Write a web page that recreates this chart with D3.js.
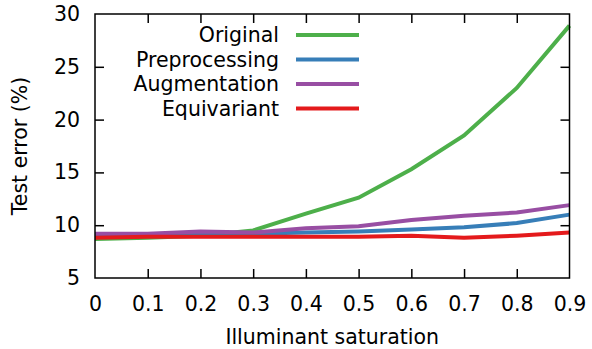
<!DOCTYPE html>
<html lang="en">
<head>
<meta charset="UTF-8">
<title>Test error vs illuminant saturation</title>
<script src="https://d3js.org/d3.v7.min.js"></script>
<style>
    body { margin: 0; background: #fff; }
    text { font-family: "DejaVu Sans", sans-serif; fill: #000; }
    .line { fill: none; stroke-width: 4px; stroke-linejoin: miter; }
</style>
</head>
<body>
<script>
    // Data
    var saturation = [0, 0.1, 0.2, 0.3, 0.4, 0.5, 0.6, 0.7, 0.8, 0.9];
    var original      = [8.7, 8.8, 9.0, 9.5, 11.1, 12.6, 15.3, 18.5, 23.0, 28.9];
    var preprocessing = [9.0, 9.0, 9.1, 9.2, 9.3, 9.4, 9.6, 9.8, 10.2, 11.0];
    var augmentation  = [9.2, 9.2, 9.4, 9.3, 9.7, 9.9, 10.5, 10.9, 11.2, 11.9];
    var equivariant   = [8.8, 8.9, 8.9, 8.9, 8.9, 8.9, 9.0, 8.8, 9.0, 9.3];
    var seriesNames = ["Original", "Preprocessing", "Augmentation", "Equivariant"];
    var seriesColors = ["#4daf4a", "#377eb8", "#984ea3", "#e41a1c"];
    var xTicks = [0, 0.1, 0.2, 0.3, 0.4, 0.5, 0.6, 0.7, 0.8, 0.9];
    var yTicks = [5, 10, 15, 20, 25, 30];

    var series = [original, preprocessing, augmentation, equivariant];

    var W = 592, H = 349;
    var fs = 20.5;
    var margin = {top: 14, right: 22.5, bottom: 71, left: 95},
        width = W - margin.left - margin.right,
        height = H - margin.top - margin.bottom;

    var x = d3.scaleLinear().domain([0, 0.9]).range([0, width]);
    var y = d3.scaleLinear().domain([5, 30]).range([height, 0]);

    var svg = d3.select("body").append("svg")
        .attr("width", W).attr("height", H)
        .append("g")
        .attr("transform", "translate(" + margin.left + "," + margin.top + ")");

    // lines (drawn under the frame)
    var valueline = d3.line()
        .x(function(d, i) { return x(saturation[i]); })
        .y(function(d) { return y(d); });

    series.forEach(function(s, k) {
        svg.append("path")
            .datum(s)
            .attr("class", "line")
            .attr("stroke", seriesColors[k])
            .attr("d", valueline);
    });

    // frame
    svg.append("rect")
        .attr("width", width).attr("height", height)
        .attr("fill", "none").attr("stroke", "#000").attr("stroke-width", 1.5);

    // axes: ticks point inward, mirrored on top and right
    var tick = 9;
    var xAxis = d3.axisBottom(x).tickValues(xTicks).tickSize(-tick).tickPadding(18)
        .tickFormat(function(d) { return d === 0 ? "0" : d3.format(".1f")(d); });
    var yAxis = d3.axisLeft(y).tickValues(yTicks).tickSize(-tick).tickPadding(15);

    var gx = svg.append("g").attr("transform", "translate(0," + height + ")").call(xAxis);
    var gy = svg.append("g").call(yAxis);
    var gxTop = svg.append("g").call(d3.axisTop(x).tickValues(xTicks).tickSize(-tick).tickFormat(""));
    var gyRight = svg.append("g").attr("transform", "translate(" + width + ",0)")
        .call(d3.axisRight(y).tickValues(yTicks).tickSize(-tick).tickFormat(""));

    [gx, gy, gxTop, gyRight].forEach(function(g) {
        g.select(".domain").remove();
        g.selectAll(".tick line").attr("stroke", "#000").attr("stroke-width", 1.5);
        g.selectAll(".tick text").attr("font-size", fs).attr("font-family", "DejaVu Sans, sans-serif");
    });
    // no tick marks where they would sit on the frame corners
    [gx, gxTop].forEach(function(g) {
        g.selectAll(".tick").filter(function(d) { return d === 0 || d === 0.9; }).select("line").remove();
    });
    [gy, gyRight].forEach(function(g) {
        g.selectAll(".tick").filter(function(d) { return d === 5 || d === 30; }).select("line").remove();
    });

    // axis titles
    svg.append("text")
        .attr("x", width / 2).attr("y", height + 66)
        .attr("text-anchor", "middle").attr("font-size", fs)
        .text("Illuminant saturation");

    svg.append("text")
        .attr("transform", "translate(" + (-68) + "," + (height / 2) + ") rotate(-90)")
        .attr("text-anchor", "middle").attr("font-size", fs)
        .text("Test error (%)");

    // legend
    var legend = svg.append("g").attr("transform", "translate(0,21)");
    seriesNames.forEach(function(name, k) {
        var ly = k * 24.5;
        legend.append("text")
            .attr("x", 279 - margin.left).attr("y", ly)
            .attr("dy", "0.35em")
            .attr("text-anchor", "end").attr("font-size", fs)
            .text(name);
        legend.append("line")
            .attr("x1", 296 - margin.left).attr("x2", 359 - margin.left)
            .attr("y1", ly).attr("y2", ly)
            .attr("stroke", seriesColors[k]).attr("stroke-width", 4);
    });
</script>
</body>
</html>
